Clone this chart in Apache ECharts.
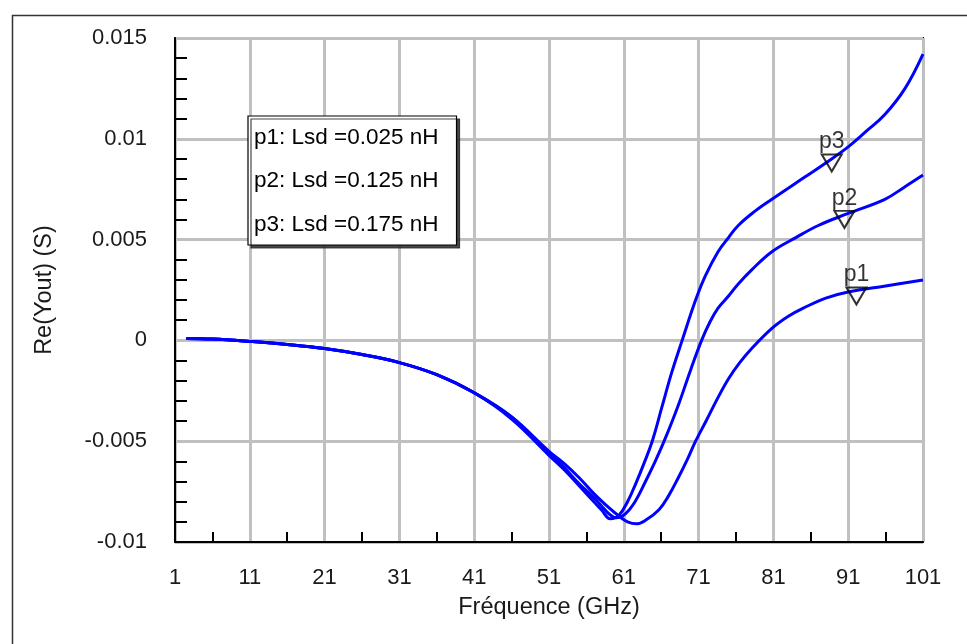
<!DOCTYPE html>
<html>
<head>
<meta charset="utf-8">
<script src="https://cdn.jsdelivr.net/npm/echarts@6/dist/echarts.min.js"></script>
<style>html,body{margin:0;padding:0;background:#fff}#c{width:967px;height:644px}</style>
</head>
<body>
<div id="c"></div>
<script>
const seriesNames = ['p1: Lsd =0.025 nH', 'p2: Lsd =0.125 nH', 'p3: Lsd =0.175 nH'];
const xTickLabels = ['1','11','21','31','41','51','61','71','81','91','101'];
const yTickLabels = ['-0.01','-0.005','0','0.005','0.01','0.015'];

const p1Freq = [2.5,6,11,16,21,26,31,36,41,46,51,53,55,57,59,60.3,61.5,62.7,64,65.7,67,68.3,69.5,70.6,72,73.5,75,76.5,78.1,80.8,83,85,88,91,96,101];
const p1Vals = [0.0001,0.00007,-0.00005,-0.0002,-0.0004,-0.0007,-0.0011,-0.0017,-0.0026,-0.0038,-0.0055,-0.0061,-0.0068,-0.0076,-0.0083,-0.0087,-0.0090,-0.0091,-0.0089,-0.0084,-0.0077,-0.0068,-0.0059,-0.0050,-0.0040,-0.0029,-0.0019,-0.0011,-0.0004,0.0006,0.0012,0.0016,0.0021,0.0024,0.0027,0.0030];

const p2Freq = [2.5,6,11,16,21,26,31,36,41,46,51,53,55,57,58,59,60,61.2,62.5,63.9,65.2,66.5,68.3,69.9,71.4,72.5,73.6,75,76.3,78.1,80.8,84,87,91,95.9,98.5,101];
const p2Vals = [0.0001,0.00007,-0.00005,-0.0002,-0.0004,-0.0007,-0.0011,-0.0017,-0.0026,-0.0038,-0.0056,-0.0063,-0.0071,-0.0078,-0.0082,-0.0086,-0.0088,-0.0086,-0.0080,-0.0070,-0.0060,-0.0049,-0.0032,-0.0015,0.0000,0.0009,0.0016,0.0022,0.0028,0.0035,0.0044,0.0051,0.0057,0.0063,0.0070,0.0076,0.0082];

const p3Freq = [2.5,6,11,16,21,26,31,36,41,46,51,53,55,57,58,59.2,60.3,61.5,62.6,63.7,64.8,66.1,67.4,68.8,70.6,71.9,73.6,75,76.3,78.5,80.8,85.2,88,91,93.5,95.9,98.6,101];
const p3Vals = [0.0001,0.00007,-0.00005,-0.0002,-0.0004,-0.0007,-0.0011,-0.0017,-0.0026,-0.0039,-0.0057,-0.0064,-0.0072,-0.0080,-0.0084,-0.00885,-0.0087,-0.0080,-0.0071,-0.0061,-0.0050,-0.0033,-0.0016,0.0000,0.0020,0.0032,0.0044,0.0051,0.0057,0.0064,0.0070,0.0081,0.0088,0.0096,0.0104,0.0112,0.0125,0.0142];

const markerLabels = ['p1','p2','p3'];
const markerFreq = [92.1, 90.5, 88.8];
const markerVals = [0.0024, 0.0062, 0.0090];

const pairs = (xs, ys) => xs.map((x, i) => [x, ys[i]]);
const FONT = 'Liberation Sans, Arial, sans-serif';
const TXT = '#1a1a1a';

const lineSeries = [[p1Freq,p1Vals],[p2Freq,p2Vals],[p3Freq,p3Vals]].map((d, i) => ({
  name: seriesNames[i],
  type: 'line',
  data: pairs(d[0], d[1]),
  smooth: 0.4,
  showSymbol: false,
  symbol: 'none',
  lineStyle: {color: '#0000ff', width: 3},
  itemStyle: {color: '#0000ff'},
  z: 3
}));

const markerSeries = {
  type: 'scatter',
  data: markerFreq.map((f, i) => ({value: [f, markerVals[i]], name: markerLabels[i]})),
  symbol: 'path://M0,0 L20,0 L10,18 Z',
  symbolSize: [20, 17],
  symbolOffset: [0, 4],
  itemStyle: {color: 'rgba(0,0,0,0)', borderColor: '#000', borderWidth: 2},
  label: {show: true, position: 'top', distance: 0, formatter: p => p.name, color: '#000', fontSize: 23, fontFamily: FONT},
  z: 5,
  silent: true
};

const chart = echarts.init(document.getElementById('c'), null, {renderer: 'canvas'});
chart.setOption({
  animation: false,
  backgroundColor: '#fff',
  graphic: [{
    type: 'rect', left: 10, top: 13, silent: true,
    shape: {width: 1000, height: 700},
    style: {fill: 'none', stroke: '#333', lineWidth: 1.5}, z: -10
  }],
  grid: {left: 175, right: 44, top: 38, bottom: 102, show: true, borderColor: '#000', borderWidth: 2, backgroundColor: 'transparent'},
  legend: {
    data: seriesNames,
    orient: 'vertical',
    left: 248, top: 116,
    icon: 'none', itemWidth: 0, itemHeight: 21, itemGap: 20.5,
    padding: [10, 18, 9, 1],
    backgroundColor: '#fff', borderColor: '#000', borderWidth: 1.2,
    shadowColor: 'rgba(40,40,40,0.85)', shadowOffsetX: 3, shadowOffsetY: 3, shadowBlur: 0,
    selectedMode: false,
    textStyle: {color: '#000', fontSize: 22.5, fontFamily: FONT}
  },
  xAxis: {
    type: 'value', min: 1, max: 101, interval: 10,
    name: 'Fréquence (GHz)', nameLocation: 'middle', nameGap: 54,
    nameTextStyle: {color: TXT, fontSize: 23.5, fontFamily: FONT},
    axisLine: {show: true, onZero: false, lineStyle: {color: '#000', width: 2}},
    axisTick: {show: false, inside: true},
    minorTick: {show: true, splitNumber: 2, length: 10, lineStyle: {color: '#000', width: 2}},
    axisLabel: {margin: 25, color: TXT, fontSize: 22, fontFamily: FONT, formatter: (v) => { const i = Math.round((v - 1) / 10); return xTickLabels[i] !== undefined ? xTickLabels[i] : ''; }},
    splitLine: {show: true, lineStyle: {color: '#c0c0c0', width: 3}}
  },
  yAxis: {
    type: 'value', min: -0.01, max: 0.015, interval: 0.005,
    name: 'Re(Yout) (S)', nameLocation: 'middle', nameGap: 118, nameRotate: 90,
    nameTextStyle: {color: TXT, fontSize: 23.5, fontFamily: FONT},
    axisLine: {show: true, onZero: false, lineStyle: {color: '#000', width: 2}},
    axisTick: {show: false, inside: true},
    minorTick: {show: true, splitNumber: 5, length: 12, lineStyle: {color: '#000', width: 2}},
    axisLabel: {margin: 28, color: TXT, fontSize: 22, fontFamily: FONT, formatter: (v) => { const i = Math.round((v + 0.01) / 0.005); return yTickLabels[i] !== undefined ? yTickLabels[i] : ''; }},
    splitLine: {show: true, lineStyle: {color: '#c0c0c0', width: 3}}
  },
  series: [...lineSeries, markerSeries]
});
</script>
</body>
</html>
